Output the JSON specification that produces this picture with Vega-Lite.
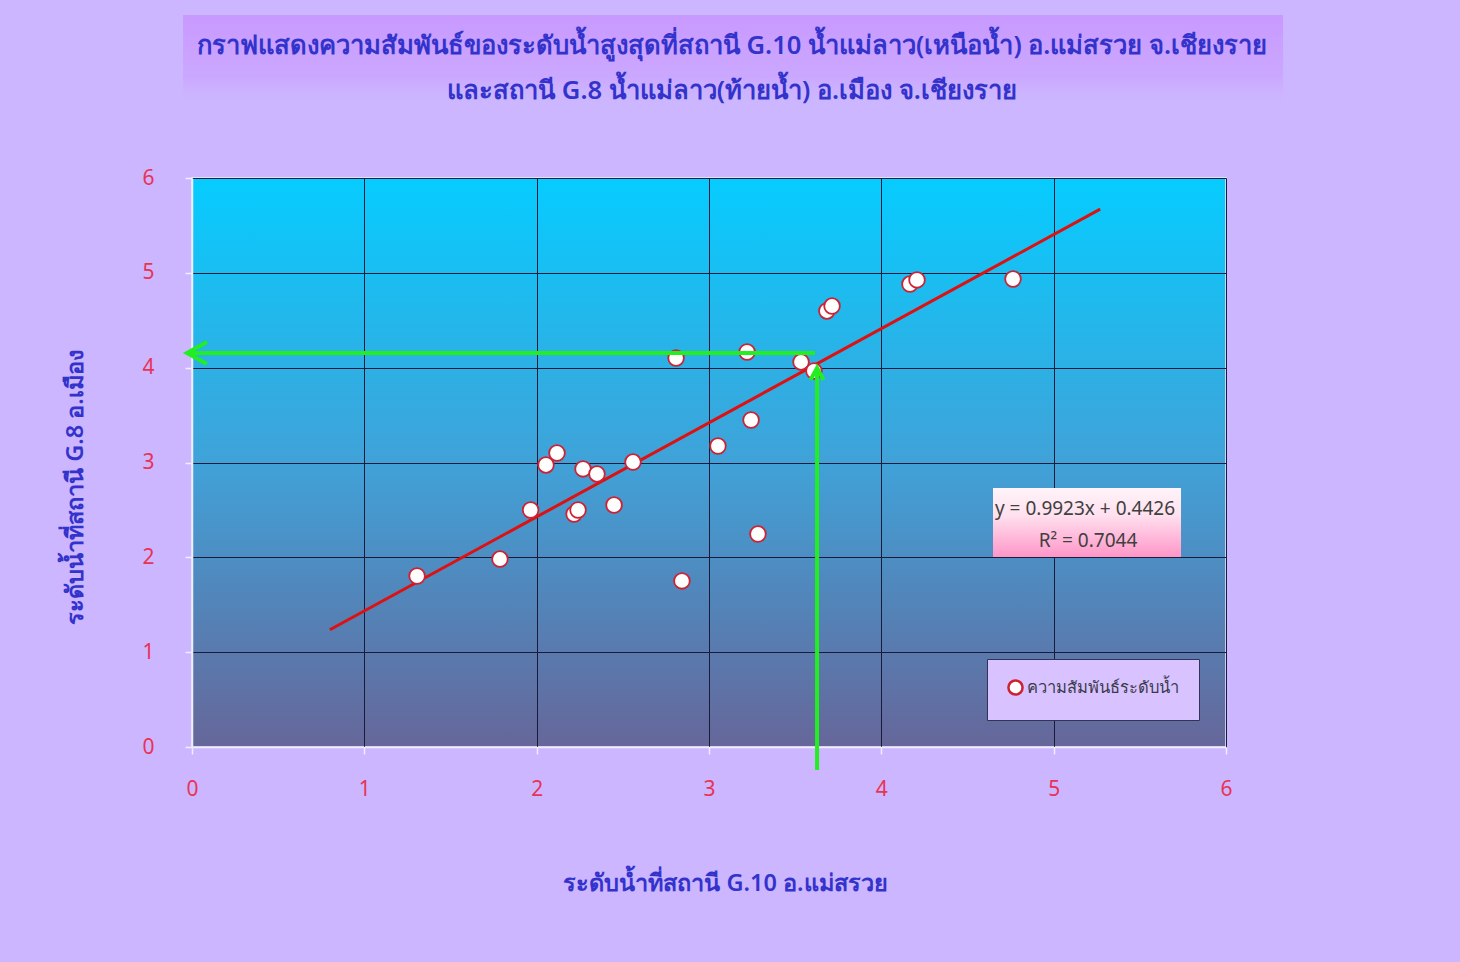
{
  "$schema": "https://vega.github.io/schema/vega-lite/v6.json",
  "width": 1034,
  "height": 569,
  "autosize": {"type": "none"},
  "padding": {"left": 192, "top": 178, "right": 234, "bottom": 215},
  "background": "#ccb6ff",
  "config": {
    "font": "Noto Sans",
    "view": {
      "fill": {"gradient": "linear", "x1": 0, "y1": 0, "x2": 0, "y2": 1,
        "stops": [{"offset": 0, "color": "#06ccff"}, {"offset": 0.5, "color": "#40a2d8"}, {"offset": 1, "color": "#666699"}]},
      "stroke": "#eeeeff",
      "strokeWidth": 1.5
    }
  },
  "title": {
    "text": ["กราฟแสดงความสัมพันธ์ของระดับน้ำสูงสุดที่สถานี G.10 น้ำแม่ลาว(เหนือน้ำ) อ.แม่สรวย จ.เชียงราย", "และสถานี G.8 น้ำแม่ลาว(ท้ายน้ำ) อ.เมือง จ.เชียงราย"],
    "fontSize": 25.6,
    "fontWeight": 600,
    "color": "#3333cc",
    "lineHeight": 45,
    "offset": -90,
    "dx": 23,
    "anchor": "middle"
  },
  "datasets": {
    "points": [
      {"x": 1.306, "y": 1.803, "s": "ความสัมพันธ์ระดับน้ำ"},
      {"x": 1.787, "y": 1.982, "s": "ความสัมพันธ์ระดับน้ำ"},
      {"x": 1.965, "y": 2.499, "s": "ความสัมพันธ์ระดับน้ำ"},
      {"x": 2.054, "y": 2.974, "s": "ความสัมพันธ์ระดับน้ำ"},
      {"x": 2.118, "y": 3.100, "s": "ความสัมพันธ์ระดับน้ำ"},
      {"x": 2.217, "y": 2.457, "s": "ความสัมพันธ์ระดับน้ำ"},
      {"x": 2.240, "y": 2.499, "s": "ความสัมพันธ์ระดับน้ำ"},
      {"x": 2.269, "y": 2.932, "s": "ความสัมพันธ์ระดับน้ำ"},
      {"x": 2.350, "y": 2.879, "s": "ความสัมพันธ์ระดับน้ำ"},
      {"x": 2.449, "y": 2.552, "s": "ความสัมพันธ์ระดับน้ำ"},
      {"x": 2.559, "y": 3.005, "s": "ความสัมพันธ์ระดับน้ำ"},
      {"x": 2.809, "y": 4.102, "s": "ความสัมพันธ์ระดับน้ำ"},
      {"x": 2.843, "y": 1.751, "s": "ความสัมพันธ์ระดับน้ำ"},
      {"x": 3.052, "y": 3.174, "s": "ความสัมพันธ์ระดับน้ำ"},
      {"x": 3.221, "y": 4.165, "s": "ความสัมพันธ์ระดับน้ำ"},
      {"x": 3.244, "y": 3.448, "s": "ความสัมพันธ์ระดับน้ำ"},
      {"x": 3.284, "y": 2.246, "s": "ความสัมพันธ์ระดับน้ำ"},
      {"x": 3.534, "y": 4.060, "s": "ความสัมพันธ์ระดับน้ำ"},
      {"x": 3.609, "y": 3.965, "s": "ความสัมพันธ์ระดับน้ำ"},
      {"x": 3.684, "y": 4.598, "s": "ความสัมพันธ์ระดับน้ำ"},
      {"x": 3.714, "y": 4.650, "s": "ความสัมพันธ์ระดับน้ำ"},
      {"x": 4.166, "y": 4.882, "s": "ความสัมพันธ์ระดับน้ำ"},
      {"x": 4.207, "y": 4.925, "s": "ความสัมพันธ์ระดับน้ำ"},
      {"x": 4.764, "y": 4.935, "s": "ความสัมพันธ์ระดับน้ำ"}
    ],
    "trend": [
      {"x": 0.80, "y": 1.236},
      {"x": 5.27, "y": 5.672}
    ],
    "arrows": [
      {"x": 3.615, "y": 4.155, "x2": -0.025, "y2": 4.155},
      {"x": 3.627, "y": -0.243, "x2": 3.627, "y2": 3.99}
    ],
    "headLeft": [{"x": -0.029, "y": 4.155}],
    "headUp": [{"x": 3.627, "y": 3.997}],
    "band": [{"x": -0.052, "x2": 6.331, "y": 6.77, "y2": 7.72}],
    "eqBox": [{"x": 4.648, "x2": 5.739, "y": 2.004, "y2": 2.731}],
    "eqText": [
      {"x": 5.182, "y": 2.510, "t": "y = 0.9923x + 0.4426"},
      {"x": 5.199, "y": 2.172, "t": "R² = 0.7044"}
    ]
  },
  "encoding": {
    "x": {
      "field": "x", "type": "quantitative",
      "scale": {"domain": [0, 6], "nice": false, "zero": false},
      "axis": {
        "title": "ระดับน้ำที่สถานี G.10 อ.แม่สรวย",
        "values": [0, 1, 2, 3, 4, 5, 6],
        "format": "d",
        "grid": true, "gridColor": "#1a1a3a", "gridWidth": 1, "gridOpacity": 1,
        "domainColor": "#eeeeff", "domainWidth": 1.5,
        "tickColor": "#eeeeff", "tickSize": 7, "tickWidth": 1.5,
        "labelColor": "#e83355", "labelFontSize": 21, "labelPadding": 24, "labelFlush": false, "labelDx": -4,
        "titleColor": "#3333cc", "titleFontSize": 23.5, "titleFontWeight": 600,
        "titleX": 533, "titleY": 136, "titleBaseline": "middle", "titleAlign": "center"
      }
    },
    "y": {
      "field": "y", "type": "quantitative",
      "scale": {"domain": [0, 6], "nice": false, "zero": false},
      "axis": {
        "title": "ระดับน้ำที่สถานี G.8 อ.เมือง",
        "values": [0, 1, 2, 3, 4, 5, 6],
        "format": "d",
        "grid": true, "gridColor": "#1a1a3a", "gridWidth": 1, "gridOpacity": 1,
        "domainColor": "#eeeeff", "domainWidth": 1.5,
        "tickColor": "#eeeeff", "tickSize": 7, "tickWidth": 1.5,
        "labelColor": "#e83355", "labelFontSize": 21, "labelPadding": 31, "labelFlush": false,
        "titleColor": "#3333cc", "titleFontSize": 23.5, "titleFontWeight": 600,
        "titleX": -117, "titleY": 309, "titleBaseline": "middle", "titleAlign": "center", "titleAngle": -90
      }
    }
  },
  "layer": [
    {
      "data": {"name": "band"},
      "mark": {"type": "rect", "clip": false,
        "color": {"gradient": "linear", "x1": 0, "y1": 0, "x2": 0, "y2": 1,
          "stops": [{"offset": 0, "color": "#c899ff"}, {"offset": 0.7, "color": "#cba8ff"}, {"offset": 1, "color": "rgba(204,182,255,0)"}]}},
      "encoding": {"x2": {"field": "x2"}, "y2": {"field": "y2"}}
    },
    {
      "data": {"name": "eqBox"},
      "mark": {"type": "rect",
        "color": {"gradient": "linear", "x1": 0, "y1": 0, "x2": 0, "y2": 1,
          "stops": [{"offset": 0, "color": "#fff4fa"}, {"offset": 0.4, "color": "#ffe0ee"}, {"offset": 1, "color": "#ff96c8"}]}},
      "encoding": {"x2": {"field": "x2"}, "y2": {"field": "y2"}}
    },
    {
      "data": {"name": "eqText"},
      "mark": {"type": "text", "fontSize": 19, "color": "#404040", "align": "center", "baseline": "middle"},
      "encoding": {"text": {"field": "t"}}
    },
    {
      "data": {"name": "trend"},
      "mark": {"type": "line", "color": "#dd1111", "strokeWidth": 3}
    },
    {
      "data": {"name": "points"},
      "mark": {"type": "point", "filled": true, "shape": "circle", "size": 245, "stroke": "#cc2233", "strokeWidth": 1.8, "opacity": 1, "fillOpacity": 1},
      "encoding": {
        "fill": {
          "field": "s", "type": "nominal",
          "scale": {"range": ["#ffffff"]},
          "legend": {
            "title": null, "orient": "bottom-right", "offset": 27,
            "fillColor": "#d8c2ff", "strokeColor": "#333355", "padding": 20,
            "symbolType": "circle", "symbolSize": 200, "symbolStrokeColor": "#cc2233", "symbolStrokeWidth": 2.5,
            "labelFontSize": 16.5, "labelColor": "#3a3a4a", "labelOffset": 3
          }
        }
      }
    },
    {
      "data": {"name": "arrows"},
      "mark": {"type": "rule", "clip": false, "color": "#22ee22", "strokeWidth": 4},
      "encoding": {"x2": {"field": "x2"}, "y2": {"field": "y2"}}
    },
    {
      "data": {"name": "headLeft"},
      "mark": {"type": "point", "clip": false, "shape": "M2,-1.1L0,0L2,1.1", "size": 400, "filled": false, "stroke": "#22ee22", "strokeWidth": 4, "opacity": 1}
    },
    {
      "data": {"name": "headUp"},
      "mark": {"type": "point", "clip": false, "shape": "M-1.1,2L0,0L1.1,2", "size": 144, "filled": false, "stroke": "#22ee22", "strokeWidth": 4, "opacity": 1}
    }
  ]
}
